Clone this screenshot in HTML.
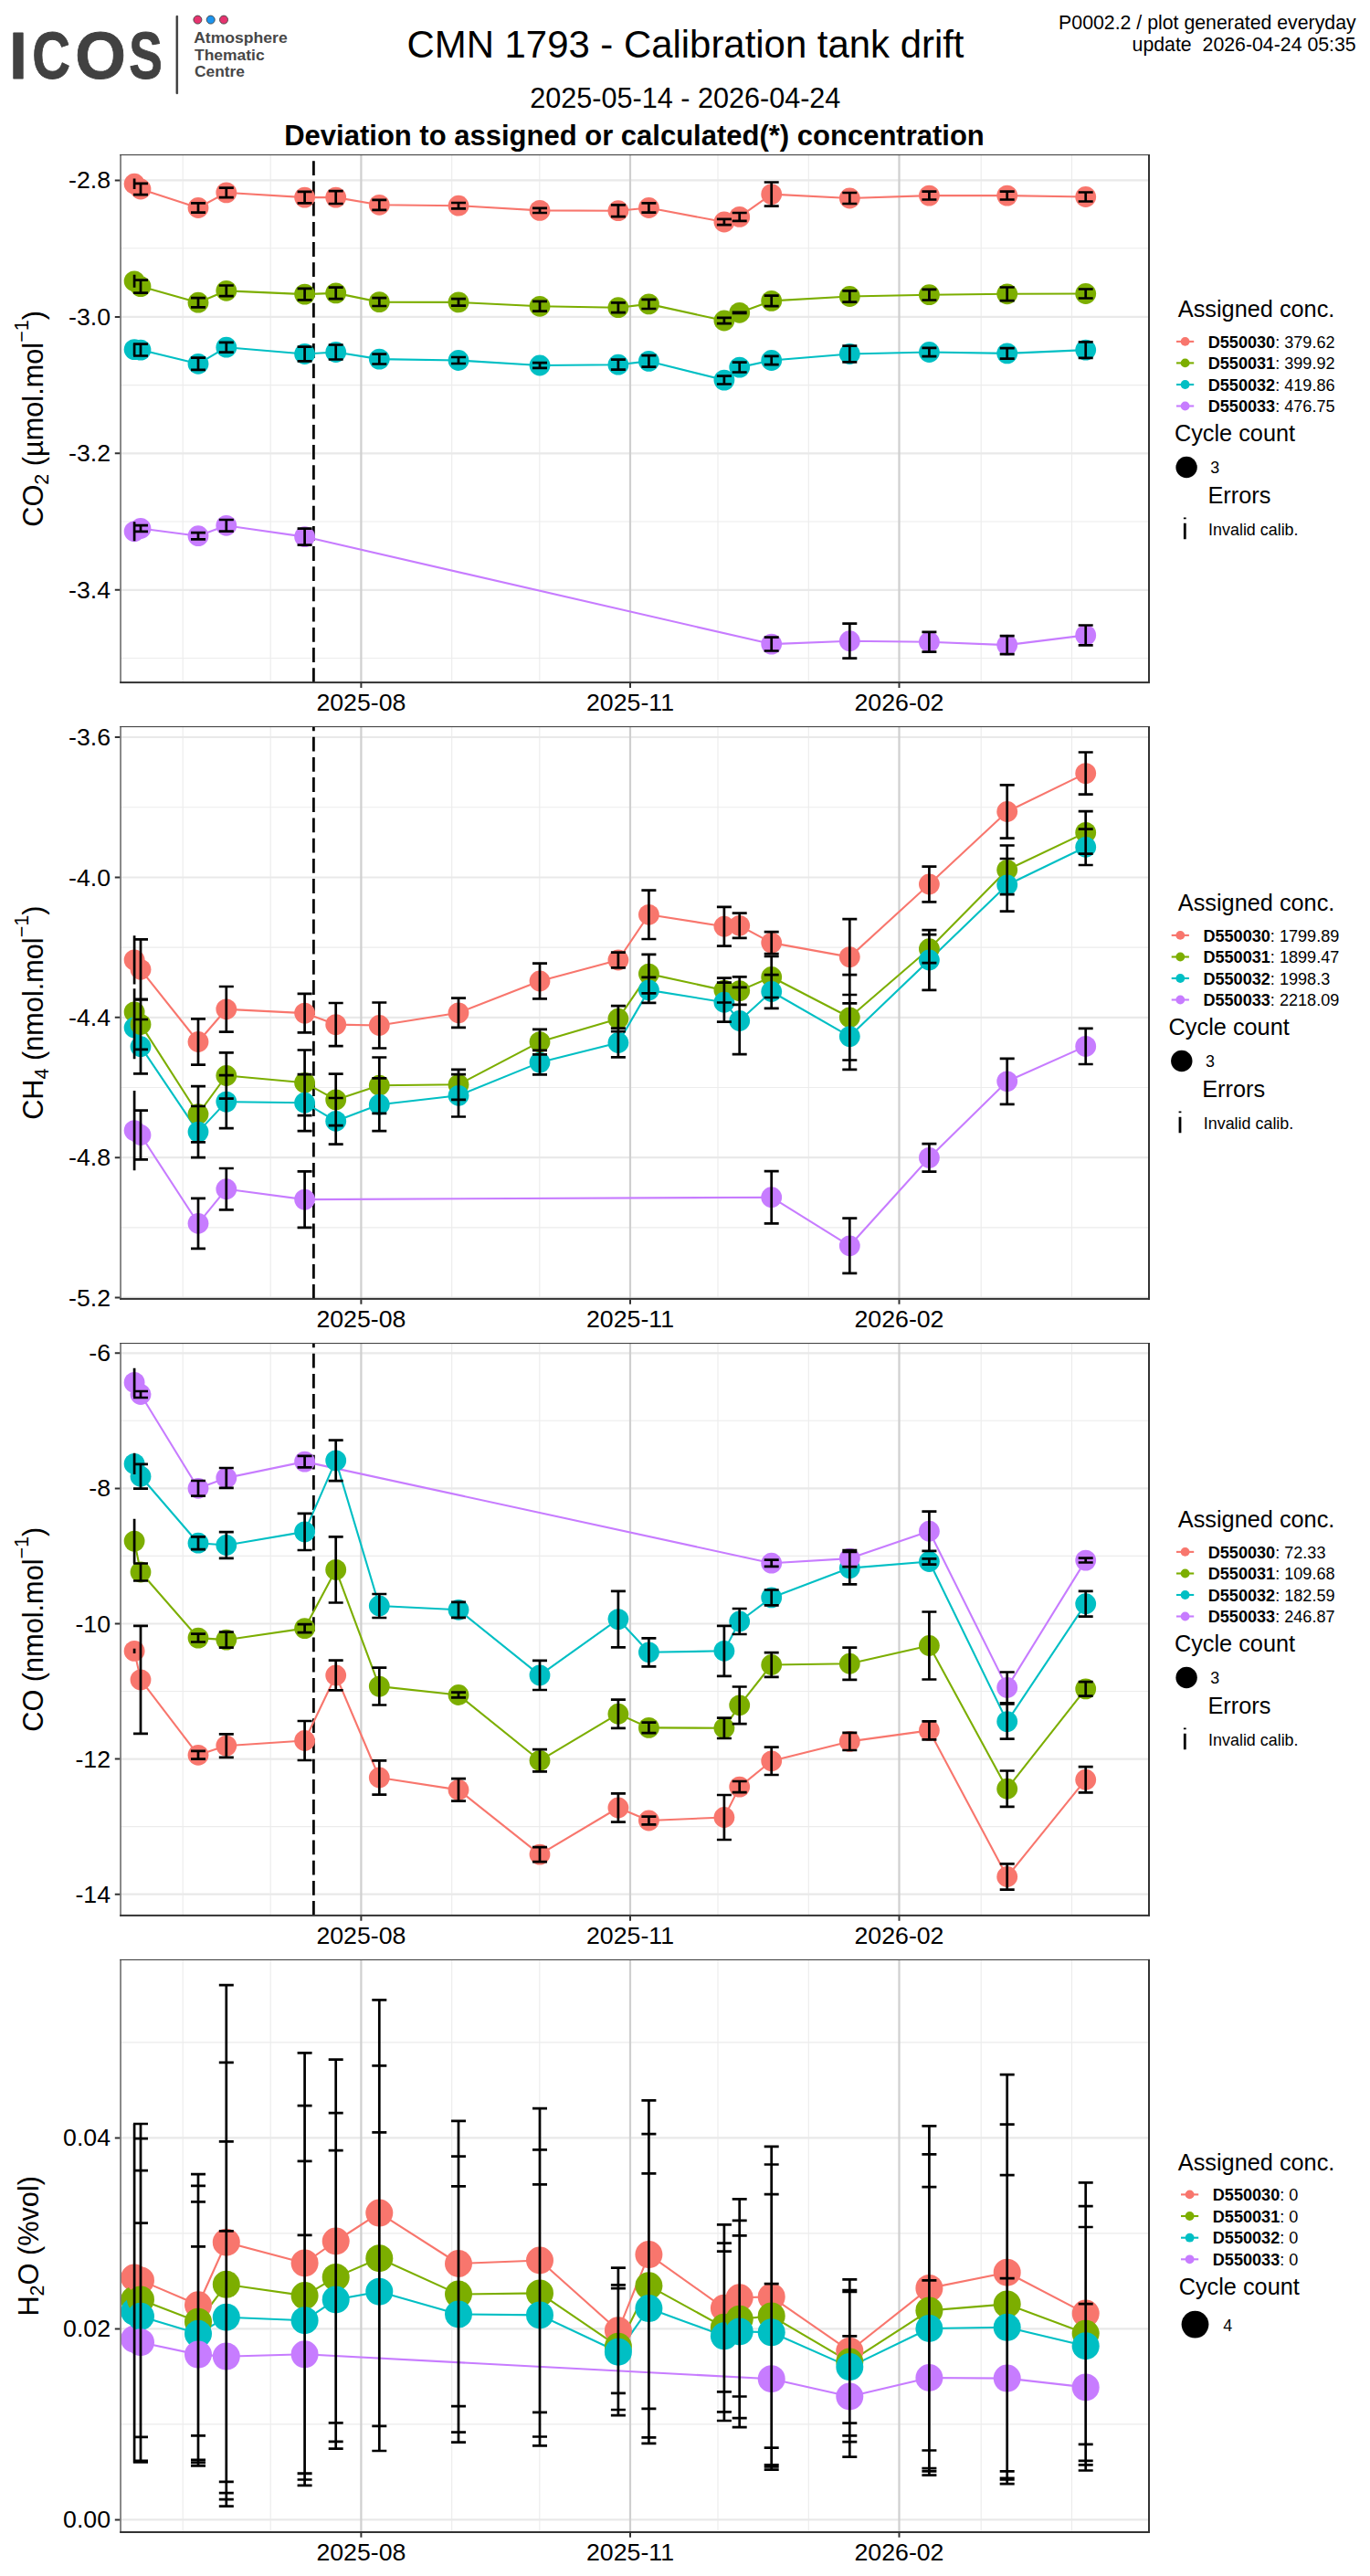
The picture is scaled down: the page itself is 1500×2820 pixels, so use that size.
<!DOCTYPE html>
<html lang="en"><head><meta charset="utf-8"><title>CMN 1793 - Calibration tank drift</title>
<style>html,body{margin:0;padding:0;background:#fff}svg{display:block}text{font-family:"Liberation Sans", Arial, Helvetica, sans-serif}</style>
</head><body>
<svg width="1500" height="2820" viewBox="0 0 1500 2820">
<rect width="1500" height="2820" fill="#fff"/>
<g id="logo" fill="#414141" font-weight="bold" stroke="#414141" stroke-width="0.9" stroke-linejoin="round"><title>ICOS Atmosphere Thematic Centre</title>
<text transform="translate(10.07 85.6) scale(0.984 1)" font-size="73">I</text>
<text transform="translate(35.30 85.6) scale(0.792 1)" font-size="73">C</text>
<text transform="translate(82.15 85.6) scale(0.979 1)" font-size="73">O</text>
<text transform="translate(141.20 85.6) scale(0.751 1)" font-size="73">S</text>
<rect x="193" y="17.4" width="1.6" height="85.2" fill="#333"/>
<circle cx="216.4" cy="21.6" r="4.5" fill="#e6336f"/><circle cx="230.7" cy="21.6" r="4.5" fill="#1c94ee"/><circle cx="245" cy="21.6" r="4.5" fill="#e6336f"/>
<g font-size="16.6" fill="#474747" stroke="none">
<text x="212.2" y="47.2" textLength="102.5" lengthAdjust="spacingAndGlyphs">Atmosphere</text>
<text x="213" y="65.8" textLength="76.7" lengthAdjust="spacingAndGlyphs">Thematic</text>
<text x="213" y="84.4" textLength="55" lengthAdjust="spacingAndGlyphs">Centre</text>
</g></g>
<text x="750.5" y="63.3" font-size="41.9" text-anchor="middle">CMN 1793 - Calibration tank drift</text>
<text x="750.3" y="117.7" font-size="30.6" text-anchor="middle">2025-05-14 - 2026-04-24</text>
<text x="694.5" y="158.6" font-size="31" text-anchor="middle" font-weight="bold">Deviation to assigned or calculated(*) concentration</text>
<text x="1484.7" y="31.9" font-size="21.3" text-anchor="end">P0002.2 / plot generated everyday</text>
<text x="1484.7" y="55.6" font-size="21.3" text-anchor="end" xml:space="preserve">update  2026-04-24 05:35</text>
<g id="panel1">
<rect x="132.4" y="169.6" width="1125.4" height="577.5" fill="#fff"/>
<path d="M132.4 271.8H1257.8M132.4 421.6H1257.8M132.4 571H1257.8M132.4 720.5H1257.8M200.2 169.6V747.1M296.2 169.6V747.1M494.7 169.6V747.1M590.8 169.6V747.1M786 169.6V747.1M885.3 169.6V747.1M1074.2 169.6V747.1M1173.5 169.6V747.1" stroke="#ececec" stroke-width="1.1" fill="none"/>
<path d="M132.4 197.4H1257.8M132.4 346.9H1257.8M132.4 496.3H1257.8M132.4 645.8H1257.8" stroke="#e9e9e9" stroke-width="2.2" fill="none"/>
<path d="M395.4 169.6V747.1M690 169.6V747.1M984.5 169.6V747.1" stroke="#cfcfcf" stroke-width="2.2" fill="none"/>
<path d="M343.4 747.1V169.6" stroke="#000" stroke-width="2.75" stroke-dasharray="15.8 6.4" fill="none"/>
<polyline points="147.1,201.2 154,207 217,227.5 247.8,210.9 333.6,216.1 367.7,216.1 415.3,224.3 502,225.2 591,230.4 676.9,230.7 710.4,227.5 792.9,243 809.7,237.4 844.7,212.6 930.3,217 1017.4,214.1 1102.7,214.1 1188.7,215.5" stroke="#F8766D" stroke-width="2.1" fill="none" stroke-linejoin="round"/>
<polyline points="147.1,307.8 154,313.6 217,331.2 247.8,318.3 333.6,322.1 367.7,320.9 415.3,330.6 502,330.9 591,335.3 676.9,336.7 710.4,332.9 792.9,351 809.7,342.3 844.7,329.4 930.3,324.5 1017.4,322.7 1102.7,321.8 1188.7,321.5" stroke="#7CAE00" stroke-width="2.1" fill="none" stroke-linejoin="round"/>
<polyline points="147.1,382.6 154,383.1 217,398.3 247.8,380.2 333.6,387.5 367.7,385.5 415.3,393.1 502,394.5 591,400 676.9,399.2 710.4,395.4 792.9,416.1 809.7,402.1 844.7,394.5 930.3,387.5 1017.4,385.5 1102.7,386.9 1188.7,383.1" stroke="#00BFC4" stroke-width="2.1" fill="none" stroke-linejoin="round"/>
<polyline points="147.1,581.8 154,578.5 217,586.7 247.8,575.3 333.6,587.6 844.7,705.1 930.3,701.7 1017.4,702.7 1102.7,706.1 1188.7,695.4" stroke="#C77CFF" stroke-width="2.1" fill="none" stroke-linejoin="round"/>
<circle cx="147.1" cy="201.2" r="11.4" fill="#F8766D"/>
<circle cx="147.1" cy="307.8" r="11.4" fill="#7CAE00"/>
<circle cx="147.1" cy="382.6" r="11.4" fill="#00BFC4"/>
<circle cx="147.1" cy="581.8" r="11.4" fill="#C77CFF"/>
<circle cx="154" cy="207" r="11.4" fill="#F8766D"/>
<circle cx="154" cy="313.6" r="11.4" fill="#7CAE00"/>
<circle cx="154" cy="383.1" r="11.4" fill="#00BFC4"/>
<circle cx="154" cy="578.5" r="11.4" fill="#C77CFF"/>
<circle cx="217" cy="227.5" r="11.4" fill="#F8766D"/>
<circle cx="217" cy="331.2" r="11.4" fill="#7CAE00"/>
<circle cx="217" cy="398.3" r="11.4" fill="#00BFC4"/>
<circle cx="217" cy="586.7" r="11.4" fill="#C77CFF"/>
<circle cx="247.8" cy="210.9" r="11.4" fill="#F8766D"/>
<circle cx="247.8" cy="318.3" r="11.4" fill="#7CAE00"/>
<circle cx="247.8" cy="380.2" r="11.4" fill="#00BFC4"/>
<circle cx="247.8" cy="575.3" r="11.4" fill="#C77CFF"/>
<circle cx="333.6" cy="216.1" r="11.4" fill="#F8766D"/>
<circle cx="333.6" cy="322.1" r="11.4" fill="#7CAE00"/>
<circle cx="333.6" cy="387.5" r="11.4" fill="#00BFC4"/>
<circle cx="333.6" cy="587.6" r="11.4" fill="#C77CFF"/>
<circle cx="367.7" cy="216.1" r="11.4" fill="#F8766D"/>
<circle cx="367.7" cy="320.9" r="11.4" fill="#7CAE00"/>
<circle cx="367.7" cy="385.5" r="11.4" fill="#00BFC4"/>
<circle cx="415.3" cy="224.3" r="11.4" fill="#F8766D"/>
<circle cx="415.3" cy="330.6" r="11.4" fill="#7CAE00"/>
<circle cx="415.3" cy="393.1" r="11.4" fill="#00BFC4"/>
<circle cx="502" cy="225.2" r="11.4" fill="#F8766D"/>
<circle cx="502" cy="330.9" r="11.4" fill="#7CAE00"/>
<circle cx="502" cy="394.5" r="11.4" fill="#00BFC4"/>
<circle cx="591" cy="230.4" r="11.4" fill="#F8766D"/>
<circle cx="591" cy="335.3" r="11.4" fill="#7CAE00"/>
<circle cx="591" cy="400" r="11.4" fill="#00BFC4"/>
<circle cx="676.9" cy="230.7" r="11.4" fill="#F8766D"/>
<circle cx="676.9" cy="336.7" r="11.4" fill="#7CAE00"/>
<circle cx="676.9" cy="399.2" r="11.4" fill="#00BFC4"/>
<circle cx="710.4" cy="227.5" r="11.4" fill="#F8766D"/>
<circle cx="710.4" cy="332.9" r="11.4" fill="#7CAE00"/>
<circle cx="710.4" cy="395.4" r="11.4" fill="#00BFC4"/>
<circle cx="792.9" cy="243" r="11.4" fill="#F8766D"/>
<circle cx="792.9" cy="351" r="11.4" fill="#7CAE00"/>
<circle cx="792.9" cy="416.1" r="11.4" fill="#00BFC4"/>
<circle cx="809.7" cy="237.4" r="11.4" fill="#F8766D"/>
<circle cx="809.7" cy="342.3" r="11.4" fill="#7CAE00"/>
<circle cx="809.7" cy="402.1" r="11.4" fill="#00BFC4"/>
<circle cx="844.7" cy="212.6" r="11.4" fill="#F8766D"/>
<circle cx="844.7" cy="329.4" r="11.4" fill="#7CAE00"/>
<circle cx="844.7" cy="394.5" r="11.4" fill="#00BFC4"/>
<circle cx="844.7" cy="705.1" r="11.4" fill="#C77CFF"/>
<circle cx="930.3" cy="217" r="11.4" fill="#F8766D"/>
<circle cx="930.3" cy="324.5" r="11.4" fill="#7CAE00"/>
<circle cx="930.3" cy="387.5" r="11.4" fill="#00BFC4"/>
<circle cx="930.3" cy="701.7" r="11.4" fill="#C77CFF"/>
<circle cx="1017.4" cy="214.1" r="11.4" fill="#F8766D"/>
<circle cx="1017.4" cy="322.7" r="11.4" fill="#7CAE00"/>
<circle cx="1017.4" cy="385.5" r="11.4" fill="#00BFC4"/>
<circle cx="1017.4" cy="702.7" r="11.4" fill="#C77CFF"/>
<circle cx="1102.7" cy="214.1" r="11.4" fill="#F8766D"/>
<circle cx="1102.7" cy="321.8" r="11.4" fill="#7CAE00"/>
<circle cx="1102.7" cy="386.9" r="11.4" fill="#00BFC4"/>
<circle cx="1102.7" cy="706.1" r="11.4" fill="#C77CFF"/>
<circle cx="1188.7" cy="215.5" r="11.4" fill="#F8766D"/>
<circle cx="1188.7" cy="321.5" r="11.4" fill="#7CAE00"/>
<circle cx="1188.7" cy="383.1" r="11.4" fill="#00BFC4"/>
<circle cx="1188.7" cy="695.4" r="11.4" fill="#C77CFF"/>
<path d="M147.1 195.5V206.9M154 200.8V213.2M146 200.8H162M146 213.2H162M217 222.4V232.6M209 222.4H225M209 232.6H225M247.8 205.6V216.2M239.8 205.6H255.8M239.8 216.2H255.8M333.6 209.8V222.4M325.6 209.8H341.6M325.6 222.4H341.6M367.7 209.2V223M359.7 209.2H375.7M359.7 223H375.7M415.3 218.8V229.8M407.3 218.8H423.3M407.3 229.8H423.3M502 222V228.4M494 222H510M494 228.4H510M591 227.8V233M583 227.8H599M583 233H599M676.9 224.3V237.1M668.9 224.3H684.9M668.9 237.1H684.9M710.4 222.4V232.6M702.4 222.4H718.4M702.4 232.6H718.4M792.9 239.8V246.2M784.9 239.8H800.9M784.9 246.2H800.9M809.7 233V241.8M801.7 233H817.7M801.7 241.8H817.7M844.7 199.5V225.7M836.7 199.5H852.7M836.7 225.7H852.7M930.3 211V223M922.3 211H938.3M922.3 223H938.3M1017.4 209.7V218.5M1009.4 209.7H1025.4M1009.4 218.5H1025.4M1102.7 209.7V218.5M1094.7 209.7H1110.7M1094.7 218.5H1110.7M1188.7 210.5V220.5M1180.7 210.5H1196.7M1180.7 220.5H1196.7M147.1 300.8V314.8M154 306.6V320.6M146 306.6H162M146 320.6H162M217 326.1V336.3M209 326.1H225M209 336.3H225M247.8 312.5V324.1M239.8 312.5H255.8M239.8 324.1H255.8M333.6 315.8V328.4M325.6 315.8H341.6M325.6 328.4H341.6M367.7 314.6V327.2M359.7 314.6H375.7M359.7 327.2H375.7M415.3 326.2V335M407.3 326.2H423.3M407.3 335H423.3M502 327.1V334.7M494 327.1H510M494 334.7H510M591 329.9V340.7M583 329.9H599M583 340.7H599M676.9 331.3V342.1M668.9 331.3H684.9M668.9 342.1H684.9M710.4 327.8V338M702.4 327.8H718.4M702.4 338H718.4M792.9 347.8V354.2M784.9 347.8H800.9M784.9 354.2H800.9M809.7 341.8V342.8M801.7 341.8H817.7M801.7 342.8H817.7M844.7 323.7V335.1M836.7 323.7H852.7M836.7 335.1H852.7M930.3 318.4V330.6M922.3 318.4H938.3M922.3 330.6H938.3M1017.4 316.9V328.5M1009.4 316.9H1025.4M1009.4 328.5H1025.4M1102.7 314.5V329.1M1094.7 314.5H1110.7M1094.7 329.1H1110.7M1188.7 316.5V326.5M1180.7 316.5H1196.7M1180.7 326.5H1196.7M147.1 375.7V389.5M154 376.7V389.5M146 376.7H162M146 389.5H162M217 391.7V404.9M209 391.7H225M209 404.9H225M247.8 374.8V385.6M239.8 374.8H255.8M239.8 385.6H255.8M333.6 379.6V395.4M325.6 379.6H341.6M325.6 395.4H341.6M367.7 377.5V393.5M359.7 377.5H375.7M359.7 393.5H375.7M415.3 387.7V398.5M407.3 387.7H423.3M407.3 398.5H423.3M502 391V398M494 391H510M494 398H510M591 397.2V402.8M583 397.2H599M583 402.8H599M676.9 393.7V404.7M668.9 393.7H684.9M668.9 404.7H684.9M710.4 389.1V401.7M702.4 389.1H718.4M702.4 401.7H718.4M792.9 411.7V420.5M784.9 411.7H800.9M784.9 420.5H800.9M809.7 396.7V407.5M801.7 396.7H817.7M801.7 407.5H817.7M844.7 389.8V399.2M836.7 389.8H852.7M836.7 399.2H852.7M930.3 378.6V396.4M922.3 378.6H938.3M922.3 396.4H938.3M1017.4 380.8V390.2M1009.4 380.8H1025.4M1009.4 390.2H1025.4M1102.7 381.1V392.7M1094.7 381.1H1110.7M1094.7 392.7H1110.7M1188.7 374.3V391.9M1180.7 374.3H1196.7M1180.7 391.9H1196.7M147.1 571.3V592.3M154 575.1V581.9M146 575.1H162M146 581.9H162M217 583.1V590.3M209 583.1H225M209 590.3H225M247.8 569V581.6M239.8 569H255.8M239.8 581.6H255.8M333.6 578.6V596.6M325.6 578.6H341.6M325.6 596.6H341.6M844.7 697.7V712.5M836.7 697.7H852.7M836.7 712.5H852.7M930.3 682.7V720.7M922.3 682.7H938.3M922.3 720.7H938.3M1017.4 691.8V713.6M1009.4 691.8H1025.4M1009.4 713.6H1025.4M1102.7 696.1V716.1M1094.7 696.1H1110.7M1094.7 716.1H1110.7M1188.7 684.5V706.3M1180.7 684.5H1196.7M1180.7 706.3H1196.7" stroke="#000" stroke-width="2.7" fill="none"/>
<rect x="131.2" y="169" width="1.7" height="579" fill="#757575"/>
<rect x="131.2" y="169" width="1127.8" height="1.1" fill="#444"/>
<rect x="1257" y="169" width="2" height="579" fill="#333"/>
<rect x="131.2" y="746.1" width="1127.8" height="2" fill="#333"/>
<path d="M125.8 197.4H131.3M125.8 346.9H131.3M125.8 496.3H131.3M125.8 645.8H131.3M395.4 748V752.9M690 748V752.9M984.5 748V752.9" stroke="#333" stroke-width="2" fill="none"/>
<g font-size="26.7">
<text x="121" y="206.4" text-anchor="end">-2.8</text>
<text x="121" y="355.9" text-anchor="end">-3.0</text>
<text x="121" y="505.3" text-anchor="end">-3.2</text>
<text x="121" y="654.8" text-anchor="end">-3.4</text>
<text x="395.4" y="777.7" text-anchor="middle">2025-08</text>
<text x="690" y="777.7" text-anchor="middle">2025-11</text>
<text x="984.5" y="777.7" text-anchor="middle">2026-02</text>
</g>
</g>
<g id="panel2">
<rect x="132.4" y="795.5" width="1125.4" height="626.4" fill="#fff"/>
<path d="M132.4 883.8H1257.8M132.4 1037.1H1257.8M132.4 1190.5H1257.8M132.4 1343.9H1257.8M200.2 795.5V1421.9M296.2 795.5V1421.9M494.7 795.5V1421.9M590.8 795.5V1421.9M786 795.5V1421.9M885.3 795.5V1421.9M1074.2 795.5V1421.9M1173.5 795.5V1421.9" stroke="#ececec" stroke-width="1.1" fill="none"/>
<path d="M132.4 807H1257.8M132.4 960.5H1257.8M132.4 1113.8H1257.8M132.4 1267.2H1257.8M132.4 1420.6H1257.8" stroke="#e9e9e9" stroke-width="2.2" fill="none"/>
<path d="M395.4 795.5V1421.9M690 795.5V1421.9M984.5 795.5V1421.9" stroke="#cfcfcf" stroke-width="2.2" fill="none"/>
<path d="M343.4 1421.9V795.5" stroke="#000" stroke-width="2.75" stroke-dasharray="15.8 6.4" fill="none"/>
<polyline points="147.1,1050.9 154,1061.3 217,1140.5 247.8,1104.8 333.6,1109.1 367.7,1121.6 415.3,1122.5 502,1108.8 591,1074 676.9,1051 710.4,1001.3 792.9,1014.2 809.7,1013.3 844.7,1032.1 930.3,1047.6 1017.4,968 1102.7,888.5 1188.7,846.6" stroke="#F8766D" stroke-width="2.1" fill="none" stroke-linejoin="round"/>
<polyline points="147.1,1107.9 154,1121.4 217,1219.7 247.8,1177.5 333.6,1185.3 367.7,1203.9 415.3,1188.2 502,1187.3 591,1140.6 676.9,1115.2 710.4,1066.1 792.9,1084.1 809.7,1084.6 844.7,1069.5 930.3,1113.8 1017.4,1038.7 1102.7,952.3 1188.7,911.4" stroke="#7CAE00" stroke-width="2.1" fill="none" stroke-linejoin="round"/>
<polyline points="147.1,1125 154,1145.7 217,1239.1 247.8,1206.1 333.6,1207.2 367.7,1227.3 415.3,1209.2 502,1199.3 591,1163.1 676.9,1141.5 710.4,1083.9 792.9,1097.2 809.7,1117.5 844.7,1085.5 930.3,1134.6 1017.4,1051 1102.7,968.8 1188.7,927.3" stroke="#00BFC4" stroke-width="2.1" fill="none" stroke-linejoin="round"/>
<polyline points="147.1,1237.6 154,1242.5 217,1339.3 247.8,1301.7 333.6,1313.1 844.7,1310.7 930.3,1363.8 1017.4,1267.4 1102.7,1183.8 1188.7,1145.4" stroke="#C77CFF" stroke-width="2.1" fill="none" stroke-linejoin="round"/>
<circle cx="147.1" cy="1050.9" r="11.4" fill="#F8766D"/>
<circle cx="147.1" cy="1107.9" r="11.4" fill="#7CAE00"/>
<circle cx="147.1" cy="1125" r="11.4" fill="#00BFC4"/>
<circle cx="147.1" cy="1237.6" r="11.4" fill="#C77CFF"/>
<circle cx="154" cy="1061.3" r="11.4" fill="#F8766D"/>
<circle cx="154" cy="1121.4" r="11.4" fill="#7CAE00"/>
<circle cx="154" cy="1145.7" r="11.4" fill="#00BFC4"/>
<circle cx="154" cy="1242.5" r="11.4" fill="#C77CFF"/>
<circle cx="217" cy="1140.5" r="11.4" fill="#F8766D"/>
<circle cx="217" cy="1219.7" r="11.4" fill="#7CAE00"/>
<circle cx="217" cy="1239.1" r="11.4" fill="#00BFC4"/>
<circle cx="217" cy="1339.3" r="11.4" fill="#C77CFF"/>
<circle cx="247.8" cy="1104.8" r="11.4" fill="#F8766D"/>
<circle cx="247.8" cy="1177.5" r="11.4" fill="#7CAE00"/>
<circle cx="247.8" cy="1206.1" r="11.4" fill="#00BFC4"/>
<circle cx="247.8" cy="1301.7" r="11.4" fill="#C77CFF"/>
<circle cx="333.6" cy="1109.1" r="11.4" fill="#F8766D"/>
<circle cx="333.6" cy="1185.3" r="11.4" fill="#7CAE00"/>
<circle cx="333.6" cy="1207.2" r="11.4" fill="#00BFC4"/>
<circle cx="333.6" cy="1313.1" r="11.4" fill="#C77CFF"/>
<circle cx="367.7" cy="1121.6" r="11.4" fill="#F8766D"/>
<circle cx="367.7" cy="1203.9" r="11.4" fill="#7CAE00"/>
<circle cx="367.7" cy="1227.3" r="11.4" fill="#00BFC4"/>
<circle cx="415.3" cy="1122.5" r="11.4" fill="#F8766D"/>
<circle cx="415.3" cy="1188.2" r="11.4" fill="#7CAE00"/>
<circle cx="415.3" cy="1209.2" r="11.4" fill="#00BFC4"/>
<circle cx="502" cy="1108.8" r="11.4" fill="#F8766D"/>
<circle cx="502" cy="1187.3" r="11.4" fill="#7CAE00"/>
<circle cx="502" cy="1199.3" r="11.4" fill="#00BFC4"/>
<circle cx="591" cy="1074" r="11.4" fill="#F8766D"/>
<circle cx="591" cy="1140.6" r="11.4" fill="#7CAE00"/>
<circle cx="591" cy="1163.1" r="11.4" fill="#00BFC4"/>
<circle cx="676.9" cy="1051" r="11.4" fill="#F8766D"/>
<circle cx="676.9" cy="1115.2" r="11.4" fill="#7CAE00"/>
<circle cx="676.9" cy="1141.5" r="11.4" fill="#00BFC4"/>
<circle cx="710.4" cy="1001.3" r="11.4" fill="#F8766D"/>
<circle cx="710.4" cy="1066.1" r="11.4" fill="#7CAE00"/>
<circle cx="710.4" cy="1083.9" r="11.4" fill="#00BFC4"/>
<circle cx="792.9" cy="1014.2" r="11.4" fill="#F8766D"/>
<circle cx="792.9" cy="1084.1" r="11.4" fill="#7CAE00"/>
<circle cx="792.9" cy="1097.2" r="11.4" fill="#00BFC4"/>
<circle cx="809.7" cy="1013.3" r="11.4" fill="#F8766D"/>
<circle cx="809.7" cy="1084.6" r="11.4" fill="#7CAE00"/>
<circle cx="809.7" cy="1117.5" r="11.4" fill="#00BFC4"/>
<circle cx="844.7" cy="1032.1" r="11.4" fill="#F8766D"/>
<circle cx="844.7" cy="1069.5" r="11.4" fill="#7CAE00"/>
<circle cx="844.7" cy="1085.5" r="11.4" fill="#00BFC4"/>
<circle cx="844.7" cy="1310.7" r="11.4" fill="#C77CFF"/>
<circle cx="930.3" cy="1047.6" r="11.4" fill="#F8766D"/>
<circle cx="930.3" cy="1113.8" r="11.4" fill="#7CAE00"/>
<circle cx="930.3" cy="1134.6" r="11.4" fill="#00BFC4"/>
<circle cx="930.3" cy="1363.8" r="11.4" fill="#C77CFF"/>
<circle cx="1017.4" cy="968" r="11.4" fill="#F8766D"/>
<circle cx="1017.4" cy="1038.7" r="11.4" fill="#7CAE00"/>
<circle cx="1017.4" cy="1051" r="11.4" fill="#00BFC4"/>
<circle cx="1017.4" cy="1267.4" r="11.4" fill="#C77CFF"/>
<circle cx="1102.7" cy="888.5" r="11.4" fill="#F8766D"/>
<circle cx="1102.7" cy="952.3" r="11.4" fill="#7CAE00"/>
<circle cx="1102.7" cy="968.8" r="11.4" fill="#00BFC4"/>
<circle cx="1102.7" cy="1183.8" r="11.4" fill="#C77CFF"/>
<circle cx="1188.7" cy="846.6" r="11.4" fill="#F8766D"/>
<circle cx="1188.7" cy="911.4" r="11.4" fill="#7CAE00"/>
<circle cx="1188.7" cy="927.3" r="11.4" fill="#00BFC4"/>
<circle cx="1188.7" cy="1145.4" r="11.4" fill="#C77CFF"/>
<path d="M147.1 1024.2V1077.6M154 1028.3V1094.3M146 1028.3H162M146 1094.3H162M217 1115.3V1165.7M209 1115.3H225M209 1165.7H225M247.8 1080V1129.6M239.8 1080H255.8M239.8 1129.6H255.8M333.6 1087.9V1130.3M325.6 1087.9H341.6M325.6 1130.3H341.6M367.7 1098V1145.2M359.7 1098H375.7M359.7 1145.2H375.7M415.3 1097.5V1147.5M407.3 1097.5H423.3M407.3 1147.5H423.3M502 1092.7V1124.9M494 1092.7H510M494 1124.9H510M591 1054.7V1093.3M583 1054.7H599M583 1093.3H599M676.9 1042.7V1059.3M668.9 1042.7H684.9M668.9 1059.3H684.9M710.4 974.6V1028M702.4 974.6H718.4M702.4 1028H718.4M792.9 992.8V1035.6M784.9 992.8H800.9M784.9 1035.6H800.9M809.7 999.7V1026.9M801.7 999.7H817.7M801.7 1026.9H817.7M844.7 1020.1V1044.1M836.7 1020.1H852.7M836.7 1044.1H852.7M930.3 1006.2V1089M922.3 1006.2H938.3M922.3 1089H938.3M1017.4 948.7V987.3M1009.4 948.7H1025.4M1009.4 987.3H1025.4M1102.7 859.3V917.7M1094.7 859.3H1110.7M1094.7 917.7H1110.7M1188.7 823.5V869.7M1180.7 823.5H1196.7M1180.7 869.7H1196.7M147.1 1082.3V1133.5M154 1093.9V1148.9M146 1093.9H162M146 1148.9H162M217 1189.1V1250.3M209 1189.1H225M209 1250.3H225M247.8 1152.3V1202.7M239.8 1152.3H255.8M239.8 1202.7H255.8M333.6 1149.5V1221.1M325.6 1149.5H341.6M325.6 1221.1H341.6M367.7 1175.6V1232.2M359.7 1175.6H375.7M359.7 1232.2H375.7M415.3 1157.5V1218.9M407.3 1157.5H423.3M407.3 1218.9H423.3M502 1170.8V1203.8M494 1170.8H510M494 1203.8H510M591 1126.9V1154.3M583 1126.9H599M583 1154.3H599M676.9 1101.2V1129.2M668.9 1101.2H684.9M668.9 1129.2H684.9M710.4 1044.9V1087.3M702.4 1044.9H718.4M702.4 1087.3H718.4M792.9 1070.7V1097.5M784.9 1070.7H800.9M784.9 1097.5H800.9M809.7 1069.3V1099.9M801.7 1069.3H817.7M801.7 1099.9H817.7M844.7 1047V1092M836.7 1047H852.7M836.7 1092H852.7M930.3 1067.1V1160.5M922.3 1067.1H938.3M922.3 1160.5H938.3M1017.4 1023.2V1054.2M1009.4 1023.2H1025.4M1009.4 1054.2H1025.4M1102.7 925.5V979.1M1094.7 925.5H1110.7M1094.7 979.1H1110.7M1188.7 888.2V934.6M1180.7 888.2H1196.7M1180.7 934.6H1196.7M147.1 1090.8V1159.2M154 1116V1175.4M146 1116H162M146 1175.4H162M217 1211V1267.2M209 1211H225M209 1267.2H225M247.8 1177.1V1235.1M239.8 1177.1H255.8M239.8 1235.1H255.8M333.6 1176.2V1238.2M325.6 1176.2H341.6M325.6 1238.2H341.6M367.7 1202V1252.6M359.7 1202H375.7M359.7 1252.6H375.7M415.3 1180.3V1238.1M407.3 1180.3H423.3M407.3 1238.1H423.3M502 1176.1V1222.5M494 1176.1H510M494 1222.5H510M591 1149.8V1176.4M583 1149.8H599M583 1176.4H599M676.9 1125.6V1157.4M668.9 1125.6H684.9M668.9 1157.4H684.9M710.4 1069.9V1097.9M702.4 1069.9H718.4M702.4 1097.9H718.4M792.9 1075.7V1118.7M784.9 1075.7H800.9M784.9 1118.7H800.9M809.7 1080.8V1154.2M801.7 1080.8H817.7M801.7 1154.2H817.7M844.7 1067.1V1103.9M836.7 1067.1H852.7M836.7 1103.9H852.7M930.3 1098.3V1170.9M922.3 1098.3H938.3M922.3 1170.9H938.3M1017.4 1018.1V1083.9M1009.4 1018.1H1025.4M1009.4 1083.9H1025.4M1102.7 940V997.6M1094.7 940H1110.7M1094.7 997.6H1110.7M1188.7 907.6V947M1180.7 907.6H1196.7M1180.7 947H1196.7M147.1 1194V1281.2M154 1215.6V1269.4M146 1215.6H162M146 1269.4H162M217 1311.8V1366.8M209 1311.8H225M209 1366.8H225M247.8 1279V1324.4M239.8 1279H255.8M239.8 1324.4H255.8M333.6 1282.4V1343.8M325.6 1282.4H341.6M325.6 1343.8H341.6M844.7 1282.1V1339.3M836.7 1282.1H852.7M836.7 1339.3H852.7M930.3 1333.7V1393.9M922.3 1333.7H938.3M922.3 1393.9H938.3M1017.4 1252.2V1282.6M1009.4 1252.2H1025.4M1009.4 1282.6H1025.4M1102.7 1158.8V1208.8M1094.7 1158.8H1110.7M1094.7 1208.8H1110.7M1188.7 1125.8V1165M1180.7 1125.8H1196.7M1180.7 1165H1196.7" stroke="#000" stroke-width="2.7" fill="none"/>
<rect x="131.2" y="795" width="1.7" height="628" fill="#757575"/>
<rect x="131.2" y="795" width="1127.8" height="1.1" fill="#444"/>
<rect x="1257" y="795" width="2" height="628" fill="#333"/>
<rect x="131.2" y="1420.9" width="1127.8" height="2" fill="#333"/>
<path d="M125.8 807H131.3M125.8 960.5H131.3M125.8 1113.8H131.3M125.8 1267.2H131.3M125.8 1420.6H131.3M395.4 1422.8V1427.7M690 1422.8V1427.7M984.5 1422.8V1427.7" stroke="#333" stroke-width="2" fill="none"/>
<g font-size="26.7">
<text x="121" y="816" text-anchor="end">-3.6</text>
<text x="121" y="969.5" text-anchor="end">-4.0</text>
<text x="121" y="1122.8" text-anchor="end">-4.4</text>
<text x="121" y="1276.2" text-anchor="end">-4.8</text>
<text x="121" y="1429.6" text-anchor="end">-5.2</text>
<text x="395.4" y="1452.5" text-anchor="middle">2025-08</text>
<text x="690" y="1452.5" text-anchor="middle">2025-11</text>
<text x="984.5" y="1452.5" text-anchor="middle">2026-02</text>
</g>
</g>
<g id="panel3">
<rect x="132.4" y="1470.5" width="1125.4" height="626.4" fill="#fff"/>
<path d="M132.4 1555.3H1257.8M132.4 1703.4H1257.8M132.4 1851.5H1257.8M132.4 1999.6H1257.8M200.2 1470.5V2096.9M296.2 1470.5V2096.9M494.7 1470.5V2096.9M590.8 1470.5V2096.9M786 1470.5V2096.9M885.3 1470.5V2096.9M1074.2 1470.5V2096.9M1173.5 1470.5V2096.9" stroke="#ececec" stroke-width="1.1" fill="none"/>
<path d="M132.4 1481.3H1257.8M132.4 1629.4H1257.8M132.4 1777.5H1257.8M132.4 1925.6H1257.8M132.4 2073.7H1257.8" stroke="#e9e9e9" stroke-width="2.2" fill="none"/>
<path d="M395.4 1470.5V2096.9M690 1470.5V2096.9M984.5 1470.5V2096.9" stroke="#cfcfcf" stroke-width="2.2" fill="none"/>
<path d="M343.4 2096.9V1470.5" stroke="#000" stroke-width="2.75" stroke-dasharray="15.8 6.4" fill="none"/>
<polyline points="147.1,1807.4 154,1838.9 217,1921.3 247.8,1911.1 333.6,1905.5 367.7,1834 415.3,1946 502,1959.4 591,2030.1 676.9,1979 710.4,1993 792.9,1989.5 809.7,1956.1 844.7,1927.8 930.3,1906.4 1017.4,1894.4 1102.7,2054.5 1188.7,1948.2" stroke="#F8766D" stroke-width="2.1" fill="none" stroke-linejoin="round"/>
<polyline points="147.1,1687.1 154,1721 217,1793.1 247.8,1795.1 333.6,1782.6 367.7,1718.4 415.3,1846.1 502,1855.5 591,1927.3 676.9,1876.2 710.4,1891.4 792.9,1891.8 809.7,1866.8 844.7,1822.5 930.3,1821.2 1017.4,1801.5 1102.7,1958.2 1188.7,1848.9" stroke="#7CAE00" stroke-width="2.1" fill="none" stroke-linejoin="round"/>
<polyline points="147.1,1602.4 154,1616.2 217,1689.2 247.8,1691.5 333.6,1676.9 367.7,1598.9 415.3,1758 502,1762.3 591,1833.9 676.9,1772.6 710.4,1808.8 792.9,1807.3 809.7,1775 844.7,1748.9 930.3,1716.6 1017.4,1709.5 1102.7,1884.6 1188.7,1755.7" stroke="#00BFC4" stroke-width="2.1" fill="none" stroke-linejoin="round"/>
<polyline points="147.1,1513.4 154,1526.5 217,1629.3 247.8,1617.9 333.6,1600.1 844.7,1711.2 930.3,1706.1 1017.4,1676.2 1102.7,1847.4 1188.7,1708.1" stroke="#C77CFF" stroke-width="2.1" fill="none" stroke-linejoin="round"/>
<circle cx="147.1" cy="1807.4" r="11.4" fill="#F8766D"/>
<circle cx="147.1" cy="1687.1" r="11.4" fill="#7CAE00"/>
<circle cx="147.1" cy="1602.4" r="11.4" fill="#00BFC4"/>
<circle cx="147.1" cy="1513.4" r="11.4" fill="#C77CFF"/>
<circle cx="154" cy="1838.9" r="11.4" fill="#F8766D"/>
<circle cx="154" cy="1721" r="11.4" fill="#7CAE00"/>
<circle cx="154" cy="1616.2" r="11.4" fill="#00BFC4"/>
<circle cx="154" cy="1526.5" r="11.4" fill="#C77CFF"/>
<circle cx="217" cy="1921.3" r="11.4" fill="#F8766D"/>
<circle cx="217" cy="1793.1" r="11.4" fill="#7CAE00"/>
<circle cx="217" cy="1689.2" r="11.4" fill="#00BFC4"/>
<circle cx="217" cy="1629.3" r="11.4" fill="#C77CFF"/>
<circle cx="247.8" cy="1911.1" r="11.4" fill="#F8766D"/>
<circle cx="247.8" cy="1795.1" r="11.4" fill="#7CAE00"/>
<circle cx="247.8" cy="1691.5" r="11.4" fill="#00BFC4"/>
<circle cx="247.8" cy="1617.9" r="11.4" fill="#C77CFF"/>
<circle cx="333.6" cy="1905.5" r="11.4" fill="#F8766D"/>
<circle cx="333.6" cy="1782.6" r="11.4" fill="#7CAE00"/>
<circle cx="333.6" cy="1676.9" r="11.4" fill="#00BFC4"/>
<circle cx="333.6" cy="1600.1" r="11.4" fill="#C77CFF"/>
<circle cx="367.7" cy="1834" r="11.4" fill="#F8766D"/>
<circle cx="367.7" cy="1718.4" r="11.4" fill="#7CAE00"/>
<circle cx="367.7" cy="1598.9" r="11.4" fill="#00BFC4"/>
<circle cx="415.3" cy="1946" r="11.4" fill="#F8766D"/>
<circle cx="415.3" cy="1846.1" r="11.4" fill="#7CAE00"/>
<circle cx="415.3" cy="1758" r="11.4" fill="#00BFC4"/>
<circle cx="502" cy="1959.4" r="11.4" fill="#F8766D"/>
<circle cx="502" cy="1855.5" r="11.4" fill="#7CAE00"/>
<circle cx="502" cy="1762.3" r="11.4" fill="#00BFC4"/>
<circle cx="591" cy="2030.1" r="11.4" fill="#F8766D"/>
<circle cx="591" cy="1927.3" r="11.4" fill="#7CAE00"/>
<circle cx="591" cy="1833.9" r="11.4" fill="#00BFC4"/>
<circle cx="676.9" cy="1979" r="11.4" fill="#F8766D"/>
<circle cx="676.9" cy="1876.2" r="11.4" fill="#7CAE00"/>
<circle cx="676.9" cy="1772.6" r="11.4" fill="#00BFC4"/>
<circle cx="710.4" cy="1993" r="11.4" fill="#F8766D"/>
<circle cx="710.4" cy="1891.4" r="11.4" fill="#7CAE00"/>
<circle cx="710.4" cy="1808.8" r="11.4" fill="#00BFC4"/>
<circle cx="792.9" cy="1989.5" r="11.4" fill="#F8766D"/>
<circle cx="792.9" cy="1891.8" r="11.4" fill="#7CAE00"/>
<circle cx="792.9" cy="1807.3" r="11.4" fill="#00BFC4"/>
<circle cx="809.7" cy="1956.1" r="11.4" fill="#F8766D"/>
<circle cx="809.7" cy="1866.8" r="11.4" fill="#7CAE00"/>
<circle cx="809.7" cy="1775" r="11.4" fill="#00BFC4"/>
<circle cx="844.7" cy="1927.8" r="11.4" fill="#F8766D"/>
<circle cx="844.7" cy="1822.5" r="11.4" fill="#7CAE00"/>
<circle cx="844.7" cy="1748.9" r="11.4" fill="#00BFC4"/>
<circle cx="844.7" cy="1711.2" r="11.4" fill="#C77CFF"/>
<circle cx="930.3" cy="1906.4" r="11.4" fill="#F8766D"/>
<circle cx="930.3" cy="1821.2" r="11.4" fill="#7CAE00"/>
<circle cx="930.3" cy="1716.6" r="11.4" fill="#00BFC4"/>
<circle cx="930.3" cy="1706.1" r="11.4" fill="#C77CFF"/>
<circle cx="1017.4" cy="1894.4" r="11.4" fill="#F8766D"/>
<circle cx="1017.4" cy="1801.5" r="11.4" fill="#7CAE00"/>
<circle cx="1017.4" cy="1709.5" r="11.4" fill="#00BFC4"/>
<circle cx="1017.4" cy="1676.2" r="11.4" fill="#C77CFF"/>
<circle cx="1102.7" cy="2054.5" r="11.4" fill="#F8766D"/>
<circle cx="1102.7" cy="1958.2" r="11.4" fill="#7CAE00"/>
<circle cx="1102.7" cy="1884.6" r="11.4" fill="#00BFC4"/>
<circle cx="1102.7" cy="1847.4" r="11.4" fill="#C77CFF"/>
<circle cx="1188.7" cy="1948.2" r="11.4" fill="#F8766D"/>
<circle cx="1188.7" cy="1848.9" r="11.4" fill="#7CAE00"/>
<circle cx="1188.7" cy="1755.7" r="11.4" fill="#00BFC4"/>
<circle cx="1188.7" cy="1708.1" r="11.4" fill="#C77CFF"/>
<path d="M147.1 1804.8V1810M154 1779.9V1897.9M146 1779.9H162M146 1897.9H162M217 1916.9V1925.7M209 1916.9H225M209 1925.7H225M247.8 1898.3V1923.9M239.8 1898.3H255.8M239.8 1923.9H255.8M333.6 1884V1927M325.6 1884H341.6M325.6 1927H341.6M367.7 1817.6V1850.4M359.7 1817.6H375.7M359.7 1850.4H375.7M415.3 1927.3V1964.7M407.3 1927.3H423.3M407.3 1964.7H423.3M502 1947.1V1971.7M494 1947.1H510M494 1971.7H510M591 2022.1V2038.1M583 2022.1H599M583 2038.1H599M676.9 1963.4V1994.6M668.9 1963.4H684.9M668.9 1994.6H684.9M710.4 1988.6V1997.4M702.4 1988.6H718.4M702.4 1997.4H718.4M792.9 1965V2014M784.9 1965H800.9M784.9 2014H800.9M809.7 1950V1962.2M801.7 1950H817.7M801.7 1962.2H817.7M844.7 1912.6V1943M836.7 1912.6H852.7M836.7 1943H852.7M930.3 1896.8V1916M922.3 1896.8H938.3M922.3 1916H938.3M1017.4 1884.4V1904.4M1009.4 1884.4H1025.4M1009.4 1904.4H1025.4M1102.7 2040.3V2068.7M1094.7 2040.3H1110.7M1094.7 2068.7H1110.7M1188.7 1934.1V1962.3M1180.7 1934.1H1196.7M1180.7 1962.3H1196.7M147.1 1662.7V1711.5M154 1711.5V1730.5M146 1711.5H162M146 1730.5H162M217 1788.7V1797.5M209 1788.7H225M209 1797.5H225M247.8 1786.6V1803.6M239.8 1786.6H255.8M239.8 1803.6H255.8M333.6 1778.1V1787.1M325.6 1778.1H341.6M325.6 1787.1H341.6M367.7 1682.3V1754.5M359.7 1682.3H375.7M359.7 1754.5H375.7M415.3 1825.7V1866.5M407.3 1825.7H423.3M407.3 1866.5H423.3M502 1852.7V1858.3M494 1852.7H510M494 1858.3H510M591 1915.2V1939.4M583 1915.2H599M583 1939.4H599M676.9 1860.6V1891.8M668.9 1860.6H684.9M668.9 1891.8H684.9M710.4 1885.6V1897.2M702.4 1885.6H718.4M702.4 1897.2H718.4M792.9 1880.6V1903M784.9 1880.6H800.9M784.9 1903H800.9M809.7 1846.5V1887.1M801.7 1846.5H817.7M801.7 1887.1H817.7M844.7 1809.1V1835.9M836.7 1809.1H852.7M836.7 1835.9H852.7M930.3 1803.6V1838.8M922.3 1803.6H938.3M922.3 1838.8H938.3M1017.4 1764.5V1838.5M1009.4 1764.5H1025.4M1009.4 1838.5H1025.4M1102.7 1938.5V1977.9M1094.7 1938.5H1110.7M1094.7 1977.9H1110.7M1188.7 1841.2V1856.6M1180.7 1841.2H1196.7M1180.7 1856.6H1196.7M147.1 1590.7V1614.1M154 1602.8V1629.6M146 1602.8H162M146 1629.6H162M217 1682.3V1696.1M209 1682.3H225M209 1696.1H225M247.8 1677.2V1705.8M239.8 1677.2H255.8M239.8 1705.8H255.8M333.6 1656.8V1697M325.6 1656.8H341.6M325.6 1697H341.6M367.7 1576.6V1621.2M359.7 1576.6H375.7M359.7 1621.2H375.7M415.3 1745V1771M407.3 1745H423.3M407.3 1771H423.3M502 1753.8V1770.8M494 1753.8H510M494 1770.8H510M591 1817.8V1850M583 1817.8H599M583 1850H599M676.9 1741.8V1803.4M668.9 1741.8H684.9M668.9 1803.4H684.9M710.4 1793.3V1824.3M702.4 1793.3H718.4M702.4 1824.3H718.4M792.9 1779.8V1834.8M784.9 1779.8H800.9M784.9 1834.8H800.9M809.7 1761V1789M801.7 1761H817.7M801.7 1789H817.7M844.7 1740.5V1757.3M836.7 1740.5H852.7M836.7 1757.3H852.7M930.3 1698.9V1734.3M922.3 1698.9H938.3M922.3 1734.3H938.3M1017.4 1706.4V1712.6M1009.4 1706.4H1025.4M1009.4 1712.6H1025.4M1102.7 1865.5V1903.7M1094.7 1865.5H1110.7M1094.7 1903.7H1110.7M1188.7 1741.8V1769.6M1180.7 1741.8H1196.7M1180.7 1769.6H1196.7M147.1 1497.8V1529M154 1523V1530M146 1523H162M146 1530H162M217 1621V1637.6M209 1621H225M209 1637.6H225M247.8 1607V1628.8M239.8 1607H255.8M239.8 1628.8H255.8M333.6 1593.8V1606.4M325.6 1593.8H341.6M325.6 1606.4H341.6M844.7 1707.6V1714.8M836.7 1707.6H852.7M836.7 1714.8H852.7M930.3 1697V1715.2M922.3 1697H938.3M922.3 1715.2H938.3M1017.4 1654.6V1697.8M1009.4 1654.6H1025.4M1009.4 1697.8H1025.4M1102.7 1830.5V1864.3M1094.7 1830.5H1110.7M1094.7 1864.3H1110.7M1188.7 1705.7V1710.5M1180.7 1705.7H1196.7M1180.7 1710.5H1196.7" stroke="#000" stroke-width="2.7" fill="none"/>
<rect x="131.2" y="1470" width="1.7" height="628" fill="#757575"/>
<rect x="131.2" y="1470" width="1127.8" height="1.1" fill="#444"/>
<rect x="1257" y="1470" width="2" height="628" fill="#333"/>
<rect x="131.2" y="2095.9" width="1127.8" height="2" fill="#333"/>
<path d="M125.8 1481.3H131.3M125.8 1629.4H131.3M125.8 1777.5H131.3M125.8 1925.6H131.3M125.8 2073.7H131.3M395.4 2097.8V2102.7M690 2097.8V2102.7M984.5 2097.8V2102.7" stroke="#333" stroke-width="2" fill="none"/>
<g font-size="26.7">
<text x="121" y="1490.3" text-anchor="end">-6</text>
<text x="121" y="1638.4" text-anchor="end">-8</text>
<text x="121" y="1786.5" text-anchor="end">-10</text>
<text x="121" y="1934.6" text-anchor="end">-12</text>
<text x="121" y="2082.7" text-anchor="end">-14</text>
<text x="395.4" y="2127.5" text-anchor="middle">2025-08</text>
<text x="690" y="2127.5" text-anchor="middle">2025-11</text>
<text x="984.5" y="2127.5" text-anchor="middle">2026-02</text>
</g>
</g>
<g id="panel4">
<rect x="132.4" y="2145.5" width="1125.4" height="626.5" fill="#fff"/>
<path d="M132.4 2235.9H1257.8M132.4 2444.9H1257.8M132.4 2653.9H1257.8M200.2 2145.5V2772M296.2 2145.5V2772M494.7 2145.5V2772M590.8 2145.5V2772M786 2145.5V2772M885.3 2145.5V2772M1074.2 2145.5V2772M1173.5 2145.5V2772" stroke="#ececec" stroke-width="1.1" fill="none"/>
<path d="M132.4 2340.4H1257.8M132.4 2549.4H1257.8M132.4 2758.4H1257.8" stroke="#e9e9e9" stroke-width="2.2" fill="none"/>
<path d="M395.4 2145.5V2772M690 2145.5V2772M984.5 2145.5V2772" stroke="#cfcfcf" stroke-width="2.2" fill="none"/>
<polyline points="147.1,2493.5 154,2496.4 217,2523.3 247.8,2454.7 333.6,2477.4 367.7,2453.5 415.3,2422.6 502,2478 591,2474.5 676.9,2551.3 710.4,2468.1 792.9,2526.8 809.7,2515.3 844.7,2514.4 930.3,2573.7 1017.4,2504.9 1102.7,2487.7 1188.7,2532.6" stroke="#F8766D" stroke-width="2.1" fill="none" stroke-linejoin="round"/>
<polyline points="147.1,2517.7 154,2517.4 217,2541.7 247.8,2500.8 333.6,2513.1 367.7,2492.9 415.3,2472.2 502,2511.6 591,2510.4 676.9,2568.8 710.4,2502.3 792.9,2547.8 809.7,2538.7 844.7,2535.4 930.3,2585.6 1017.4,2529.4 1102.7,2522.4 1188.7,2554.5" stroke="#7CAE00" stroke-width="2.1" fill="none" stroke-linejoin="round"/>
<polyline points="147.1,2530.6 154,2535.8 217,2554.8 247.8,2536.7 333.6,2540.2 367.7,2517.4 415.3,2508.7 502,2533.5 591,2534.4 676.9,2574.7 710.4,2527.1 792.9,2557.3 809.7,2552.4 844.7,2553.3 930.3,2591.1 1017.4,2549 1102.7,2547.8 1188.7,2568.2" stroke="#00BFC4" stroke-width="2.1" fill="none" stroke-linejoin="round"/>
<polyline points="147.1,2560.7 154,2564.2 217,2577.6 247.8,2579.6 333.6,2577.3 844.7,2604.2 930.3,2623.5 1017.4,2603 1102.7,2603.6 1188.7,2613.4" stroke="#C77CFF" stroke-width="2.1" fill="none" stroke-linejoin="round"/>
<circle cx="147.1" cy="2493.5" r="15.0" fill="#F8766D"/>
<circle cx="147.1" cy="2517.7" r="15.0" fill="#7CAE00"/>
<circle cx="147.1" cy="2530.6" r="15.0" fill="#00BFC4"/>
<circle cx="147.1" cy="2560.7" r="15.0" fill="#C77CFF"/>
<circle cx="154" cy="2496.4" r="15.0" fill="#F8766D"/>
<circle cx="154" cy="2517.4" r="15.0" fill="#7CAE00"/>
<circle cx="154" cy="2535.8" r="15.0" fill="#00BFC4"/>
<circle cx="154" cy="2564.2" r="15.0" fill="#C77CFF"/>
<circle cx="217" cy="2523.3" r="15.0" fill="#F8766D"/>
<circle cx="217" cy="2541.7" r="15.0" fill="#7CAE00"/>
<circle cx="217" cy="2554.8" r="15.0" fill="#00BFC4"/>
<circle cx="217" cy="2577.6" r="15.0" fill="#C77CFF"/>
<circle cx="247.8" cy="2454.7" r="15.0" fill="#F8766D"/>
<circle cx="247.8" cy="2500.8" r="15.0" fill="#7CAE00"/>
<circle cx="247.8" cy="2536.7" r="15.0" fill="#00BFC4"/>
<circle cx="247.8" cy="2579.6" r="15.0" fill="#C77CFF"/>
<circle cx="333.6" cy="2477.4" r="15.0" fill="#F8766D"/>
<circle cx="333.6" cy="2513.1" r="15.0" fill="#7CAE00"/>
<circle cx="333.6" cy="2540.2" r="15.0" fill="#00BFC4"/>
<circle cx="333.6" cy="2577.3" r="15.0" fill="#C77CFF"/>
<circle cx="367.7" cy="2453.5" r="15.0" fill="#F8766D"/>
<circle cx="367.7" cy="2492.9" r="15.0" fill="#7CAE00"/>
<circle cx="367.7" cy="2517.4" r="15.0" fill="#00BFC4"/>
<circle cx="415.3" cy="2422.6" r="15.0" fill="#F8766D"/>
<circle cx="415.3" cy="2472.2" r="15.0" fill="#7CAE00"/>
<circle cx="415.3" cy="2508.7" r="15.0" fill="#00BFC4"/>
<circle cx="502" cy="2478" r="15.0" fill="#F8766D"/>
<circle cx="502" cy="2511.6" r="15.0" fill="#7CAE00"/>
<circle cx="502" cy="2533.5" r="15.0" fill="#00BFC4"/>
<circle cx="591" cy="2474.5" r="15.0" fill="#F8766D"/>
<circle cx="591" cy="2510.4" r="15.0" fill="#7CAE00"/>
<circle cx="591" cy="2534.4" r="15.0" fill="#00BFC4"/>
<circle cx="676.9" cy="2551.3" r="15.0" fill="#F8766D"/>
<circle cx="676.9" cy="2568.8" r="15.0" fill="#7CAE00"/>
<circle cx="676.9" cy="2574.7" r="15.0" fill="#00BFC4"/>
<circle cx="710.4" cy="2468.1" r="15.0" fill="#F8766D"/>
<circle cx="710.4" cy="2502.3" r="15.0" fill="#7CAE00"/>
<circle cx="710.4" cy="2527.1" r="15.0" fill="#00BFC4"/>
<circle cx="792.9" cy="2526.8" r="15.0" fill="#F8766D"/>
<circle cx="792.9" cy="2547.8" r="15.0" fill="#7CAE00"/>
<circle cx="792.9" cy="2557.3" r="15.0" fill="#00BFC4"/>
<circle cx="809.7" cy="2515.3" r="15.0" fill="#F8766D"/>
<circle cx="809.7" cy="2538.7" r="15.0" fill="#7CAE00"/>
<circle cx="809.7" cy="2552.4" r="15.0" fill="#00BFC4"/>
<circle cx="844.7" cy="2514.4" r="15.0" fill="#F8766D"/>
<circle cx="844.7" cy="2535.4" r="15.0" fill="#7CAE00"/>
<circle cx="844.7" cy="2553.3" r="15.0" fill="#00BFC4"/>
<circle cx="844.7" cy="2604.2" r="15.0" fill="#C77CFF"/>
<circle cx="930.3" cy="2573.7" r="15.0" fill="#F8766D"/>
<circle cx="930.3" cy="2585.6" r="15.0" fill="#7CAE00"/>
<circle cx="930.3" cy="2591.1" r="15.0" fill="#00BFC4"/>
<circle cx="930.3" cy="2623.5" r="15.0" fill="#C77CFF"/>
<circle cx="1017.4" cy="2504.9" r="15.0" fill="#F8766D"/>
<circle cx="1017.4" cy="2529.4" r="15.0" fill="#7CAE00"/>
<circle cx="1017.4" cy="2549" r="15.0" fill="#00BFC4"/>
<circle cx="1017.4" cy="2603" r="15.0" fill="#C77CFF"/>
<circle cx="1102.7" cy="2487.7" r="15.0" fill="#F8766D"/>
<circle cx="1102.7" cy="2522.4" r="15.0" fill="#7CAE00"/>
<circle cx="1102.7" cy="2547.8" r="15.0" fill="#00BFC4"/>
<circle cx="1102.7" cy="2603.6" r="15.0" fill="#C77CFF"/>
<circle cx="1188.7" cy="2532.6" r="15.0" fill="#F8766D"/>
<circle cx="1188.7" cy="2554.5" r="15.0" fill="#7CAE00"/>
<circle cx="1188.7" cy="2568.2" r="15.0" fill="#00BFC4"/>
<circle cx="1188.7" cy="2613.4" r="15.0" fill="#C77CFF"/>
<path d="M147.1 2325V2662M154 2325V2667.8M146 2325H162M146 2667.8H162M217 2380.2V2666.4M209 2380.2H225M209 2666.4H225M247.8 2173.2V2736.1M239.8 2173.2H255.8M239.8 2736.1H255.8M333.6 2247.4V2707.5M325.6 2247.4H341.6M325.6 2707.5H341.6M367.7 2254.7V2652.3M359.7 2254.7H375.7M359.7 2652.3H375.7M415.3 2189.3V2655.8M407.3 2189.3H423.3M407.3 2655.8H423.3M502 2321.8V2634.2M494 2321.8H510M494 2634.2H510M591 2308.1V2640.9M583 2308.1H599M583 2640.9H599M676.9 2482.7V2619.9M668.9 2482.7H684.9M668.9 2619.9H684.9M710.4 2299.3V2636.9M702.4 2299.3H718.4M702.4 2636.9H718.4M792.9 2435.4V2618.4M784.9 2435.4H800.9M784.9 2618.4H800.9M809.7 2407.3V2623.5M801.7 2407.3H817.7M801.7 2623.5H817.7M844.7 2349.8V2679.6M836.7 2349.8H852.7M836.7 2679.6H852.7M930.3 2495.3V2652.6M922.3 2495.3H938.3M922.3 2652.6H938.3M1017.4 2327.3V2682.5M1009.4 2327.3H1025.4M1009.4 2682.5H1025.4M1102.7 2271.1V2705.3M1094.7 2271.1H1110.7M1094.7 2705.3H1110.7M1188.7 2389.4V2675.9M1180.7 2389.4H1196.7M1180.7 2675.9H1196.7M147.1 2341.1V2694.4M154 2341.1V2693.8M146 2341.1H162M146 2693.8H162M217 2392.8V2692.9M209 2392.8H225M209 2692.9H225M247.8 2257.9V2743.7M239.8 2257.9H255.8M239.8 2743.7H255.8M333.6 2305.2V2720.9M325.6 2305.2H341.6M325.6 2720.9H341.6M367.7 2313.1V2672.8M359.7 2313.1H375.7M359.7 2672.8H375.7M415.3 2261.4V2683M407.3 2261.4H423.3M407.3 2683H423.3M502 2360.7V2662.6M494 2360.7H510M494 2662.6H510M591 2353.4V2667.5M583 2353.4H599M583 2667.5H599M676.9 2501.4V2638M668.9 2501.4H684.9M668.9 2638H684.9M710.4 2336.1V2668.4M702.4 2336.1H718.4M702.4 2668.4H718.4M792.9 2455.7V2640.3M784.9 2455.7H800.9M784.9 2640.3H800.9M809.7 2430.8V2647.1M801.7 2430.8H817.7M801.7 2647.1H817.7M844.7 2369.5V2700.5M836.7 2369.5H852.7M836.7 2700.5H852.7M930.3 2507.1V2666.4M922.3 2507.1H938.3M922.3 2666.4H938.3M1017.4 2358.3V2702.1M1009.4 2358.3H1025.4M1009.4 2702.1H1025.4M1102.7 2325.6V2719.2M1094.7 2325.6H1110.7M1094.7 2719.2H1110.7M1188.7 2415.1V2693.9M1180.7 2415.1H1196.7M1180.7 2693.9H1196.7M147.1 2376.1V2685M154 2376.1V2695.5M146 2376.1H162M146 2695.5H162M217 2410.3V2699.3M209 2410.3H225M209 2699.3H225M247.8 2344.3V2729.1M239.8 2344.3H255.8M239.8 2729.1H255.8M333.6 2365.9V2714.5M325.6 2365.9H341.6M325.6 2714.5H341.6M367.7 2354.2V2680.7M359.7 2354.2H375.7M359.7 2680.7H375.7M415.3 2334.4V2683M407.3 2334.4H423.3M407.3 2683H423.3M502 2393.4V2673.6M494 2393.4H510M494 2673.6H510M591 2391.3V2677.4M583 2391.3H599M583 2677.4H599M676.9 2505.2V2644.2M668.9 2505.2H684.9M668.9 2644.2H684.9M710.4 2379.3V2674.8M702.4 2379.3H718.4M702.4 2674.8H718.4M792.9 2464.6V2650M784.9 2464.6H800.9M784.9 2650H800.9M809.7 2447.4V2657.1M801.7 2447.4H817.7M801.7 2657.1H817.7M844.7 2402.2V2703.6M836.7 2402.2H852.7M836.7 2703.6H852.7M930.3 2508.9V2673.2M922.3 2508.9H938.3M922.3 2673.2H938.3M1017.4 2394.1V2705.3M1009.4 2394.1H1025.4M1009.4 2705.3H1025.4M1102.7 2381.2V2714.3M1094.7 2381.2H1110.7M1094.7 2714.3H1110.7M1188.7 2438V2698.4M1180.7 2438H1196.7M1180.7 2698.4H1196.7M147.1 2433.6V2696.4M154 2433.6V2694.7M146 2433.6H162M146 2694.7H162M217 2459.3V2695.8M209 2459.3H225M209 2695.8H225M247.8 2442.4V2716.9M239.8 2442.4H255.8M239.8 2716.9H255.8M333.6 2446.8V2707.8M325.6 2446.8H341.6M325.6 2707.8H341.6M844.7 2500.2V2698.4M836.7 2500.2H852.7M836.7 2698.4H852.7M930.3 2557.3V2689.6M922.3 2557.3H938.3M922.3 2689.6H938.3M1017.4 2496.3V2709.6M1009.4 2496.3H1025.4M1009.4 2709.6H1025.4M1102.7 2494.2V2712.9M1094.7 2494.2H1110.7M1094.7 2712.9H1110.7M1188.7 2522.2V2704.5M1180.7 2522.2H1196.7M1180.7 2704.5H1196.7" stroke="#000" stroke-width="2.7" fill="none"/>
<rect x="131.2" y="2144.9" width="1.7" height="628" fill="#757575"/>
<rect x="131.2" y="2144.9" width="1127.8" height="1.1" fill="#444"/>
<rect x="1257" y="2144.9" width="2" height="628" fill="#333"/>
<rect x="131.2" y="2771" width="1127.8" height="2" fill="#333"/>
<path d="M125.8 2340.4H131.3M125.8 2549.4H131.3M125.8 2758.4H131.3M395.4 2772.9V2777.8M690 2772.9V2777.8M984.5 2772.9V2777.8" stroke="#333" stroke-width="2" fill="none"/>
<g font-size="26.7">
<text x="121" y="2349.4" text-anchor="end">0.04</text>
<text x="121" y="2558.4" text-anchor="end">0.02</text>
<text x="121" y="2767.4" text-anchor="end">0.00</text>
<text x="395.4" y="2802.6" text-anchor="middle">2025-08</text>
<text x="690" y="2802.6" text-anchor="middle">2025-11</text>
<text x="984.5" y="2802.6" text-anchor="middle">2026-02</text>
</g>
</g>
<text transform="translate(47 458.4) rotate(-90)" font-size="30.7" text-anchor="middle">CO<tspan font-size="21.5" dy="6.3">2</tspan><tspan dy="-6.3"> (µmol.mol</tspan><tspan font-size="21.5" dy="-15.8">−1</tspan><tspan dy="15.8">)</tspan></text>
<text transform="translate(47 1108.7) rotate(-90)" font-size="30.7" text-anchor="middle">CH<tspan font-size="21.5" dy="6.3">4</tspan><tspan dy="-6.3"> (nmol.mol</tspan><tspan font-size="21.5" dy="-15.8">−1</tspan><tspan dy="15.8">)</tspan></text>
<text transform="translate(47 1783.7) rotate(-90)" font-size="30.7" text-anchor="middle">CO (nmol.mol<tspan font-size="21.5" dy="-15.8">−1</tspan><tspan dy="15.8">)</tspan></text>
<text transform="translate(41.9 2458.8) rotate(-90)" font-size="30.7" text-anchor="middle">H<tspan font-size="21.5" dy="6.3">2</tspan><tspan dy="-6.3">O (%vol)</tspan></text>
<g id="legend1">
<text x="1289.8" y="347.1" font-size="25.3" text-anchor="start">Assigned conc.</text>
<path d="M1288 373.9H1307.2" stroke="#F8766D" stroke-width="2.1"/>
<circle cx="1297.6" cy="373.9" r="4.9" fill="#F8766D"/>
<text x="1322.7" y="380.6" font-size="18.1"><tspan font-weight="bold">D550030</tspan>: 379.62</text>
<path d="M1288 397.4H1307.2" stroke="#7CAE00" stroke-width="2.1"/>
<circle cx="1297.6" cy="397.4" r="4.9" fill="#7CAE00"/>
<text x="1322.7" y="404.1" font-size="18.1"><tspan font-weight="bold">D550031</tspan>: 399.92</text>
<path d="M1288 421H1307.2" stroke="#00BFC4" stroke-width="2.1"/>
<circle cx="1297.6" cy="421" r="4.9" fill="#00BFC4"/>
<text x="1322.7" y="427.7" font-size="18.1"><tspan font-weight="bold">D550032</tspan>: 419.86</text>
<path d="M1288 444.5H1307.2" stroke="#C77CFF" stroke-width="2.1"/>
<circle cx="1297.6" cy="444.5" r="4.9" fill="#C77CFF"/>
<text x="1322.7" y="451.2" font-size="18.1"><tspan font-weight="bold">D550033</tspan>: 476.75</text>
<text x="1285.9" y="482.6" font-size="25.3" text-anchor="start">Cycle count</text>
<circle cx="1299.1" cy="511.5" r="11.7"/>
<text x="1325.2" y="518.1" font-size="17.9" text-anchor="start">3</text>
<text x="1322.5" y="551.4" font-size="25.3" text-anchor="start">Errors</text>
<path d="M1297.3 566.6V568.2M1297.3 572.8V590.3" stroke="#000" stroke-width="2.8"/>
<text x="1323.1" y="585.6" font-size="17.9" text-anchor="start">Invalid calib.</text>
</g>
<g id="legend2">
<text x="1289.8" y="997.1" font-size="25.3" text-anchor="start">Assigned conc.</text>
<path d="M1282.7 1023.9H1301.9" stroke="#F8766D" stroke-width="2.1"/>
<circle cx="1292.3" cy="1023.9" r="4.9" fill="#F8766D"/>
<text x="1317.4" y="1030.6" font-size="18.1"><tspan font-weight="bold">D550030</tspan>: 1799.89</text>
<path d="M1282.7 1047.5H1301.9" stroke="#7CAE00" stroke-width="2.1"/>
<circle cx="1292.3" cy="1047.5" r="4.9" fill="#7CAE00"/>
<text x="1317.4" y="1054.2" font-size="18.1"><tspan font-weight="bold">D550031</tspan>: 1899.47</text>
<path d="M1282.7 1071H1301.9" stroke="#00BFC4" stroke-width="2.1"/>
<circle cx="1292.3" cy="1071" r="4.9" fill="#00BFC4"/>
<text x="1317.4" y="1077.7" font-size="18.1"><tspan font-weight="bold">D550032</tspan>: 1998.3</text>
<path d="M1282.7 1094.5H1301.9" stroke="#C77CFF" stroke-width="2.1"/>
<circle cx="1292.3" cy="1094.5" r="4.9" fill="#C77CFF"/>
<text x="1317.4" y="1101.2" font-size="18.1"><tspan font-weight="bold">D550033</tspan>: 2218.09</text>
<text x="1279.6" y="1132.6" font-size="25.3" text-anchor="start">Cycle count</text>
<circle cx="1293.8" cy="1161.5" r="11.7"/>
<text x="1319.9" y="1168.1" font-size="17.9" text-anchor="start">3</text>
<text x="1316.2" y="1201.4" font-size="25.3" text-anchor="start">Errors</text>
<path d="M1292 1216.6V1218.2M1292 1222.8V1240.3" stroke="#000" stroke-width="2.8"/>
<text x="1317.8" y="1235.6" font-size="17.9" text-anchor="start">Invalid calib.</text>
</g>
<g id="legend3">
<text x="1289.8" y="1672.1" font-size="25.3" text-anchor="start">Assigned conc.</text>
<path d="M1288 1698.9H1307.2" stroke="#F8766D" stroke-width="2.1"/>
<circle cx="1297.6" cy="1698.9" r="4.9" fill="#F8766D"/>
<text x="1322.7" y="1705.6" font-size="18.1"><tspan font-weight="bold">D550030</tspan>: 72.33</text>
<path d="M1288 1722.5H1307.2" stroke="#7CAE00" stroke-width="2.1"/>
<circle cx="1297.6" cy="1722.5" r="4.9" fill="#7CAE00"/>
<text x="1322.7" y="1729.2" font-size="18.1"><tspan font-weight="bold">D550031</tspan>: 109.68</text>
<path d="M1288 1746H1307.2" stroke="#00BFC4" stroke-width="2.1"/>
<circle cx="1297.6" cy="1746" r="4.9" fill="#00BFC4"/>
<text x="1322.7" y="1752.7" font-size="18.1"><tspan font-weight="bold">D550032</tspan>: 182.59</text>
<path d="M1288 1769.5H1307.2" stroke="#C77CFF" stroke-width="2.1"/>
<circle cx="1297.6" cy="1769.5" r="4.9" fill="#C77CFF"/>
<text x="1322.7" y="1776.2" font-size="18.1"><tspan font-weight="bold">D550033</tspan>: 246.87</text>
<text x="1285.9" y="1807.6" font-size="25.3" text-anchor="start">Cycle count</text>
<circle cx="1299.1" cy="1836.5" r="11.7"/>
<text x="1325.2" y="1843.1" font-size="17.9" text-anchor="start">3</text>
<text x="1322.5" y="1876.4" font-size="25.3" text-anchor="start">Errors</text>
<path d="M1297.3 1891.6V1893.2M1297.3 1897.8V1915.3" stroke="#000" stroke-width="2.8"/>
<text x="1323.1" y="1910.6" font-size="17.9" text-anchor="start">Invalid calib.</text>
</g>
<g id="legend4">
<text x="1289.8" y="2375.9" font-size="25.3" text-anchor="start">Assigned conc.</text>
<path d="M1293 2402.4H1312.2" stroke="#F8766D" stroke-width="2.1"/>
<circle cx="1302.6" cy="2402.4" r="4.9" fill="#F8766D"/>
<text x="1327.8" y="2409.1" font-size="18.1"><tspan font-weight="bold">D550030</tspan>: 0</text>
<path d="M1293 2426H1312.2" stroke="#7CAE00" stroke-width="2.1"/>
<circle cx="1302.6" cy="2426" r="4.9" fill="#7CAE00"/>
<text x="1327.8" y="2432.7" font-size="18.1"><tspan font-weight="bold">D550031</tspan>: 0</text>
<path d="M1293 2449.7H1312.2" stroke="#00BFC4" stroke-width="2.1"/>
<circle cx="1302.6" cy="2449.7" r="4.9" fill="#00BFC4"/>
<text x="1327.8" y="2456.4" font-size="18.1"><tspan font-weight="bold">D550032</tspan>: 0</text>
<path d="M1293 2473.3H1312.2" stroke="#C77CFF" stroke-width="2.1"/>
<circle cx="1302.6" cy="2473.3" r="4.9" fill="#C77CFF"/>
<text x="1327.8" y="2480" font-size="18.1"><tspan font-weight="bold">D550033</tspan>: 0</text>
<text x="1290.7" y="2511.9" font-size="25.3" text-anchor="start">Cycle count</text>
<circle cx="1308.5" cy="2544.6" r="14.9"/>
<text x="1339.2" y="2551.6" font-size="17.9" text-anchor="start">4</text>
</g>
</svg>
</body></html>
